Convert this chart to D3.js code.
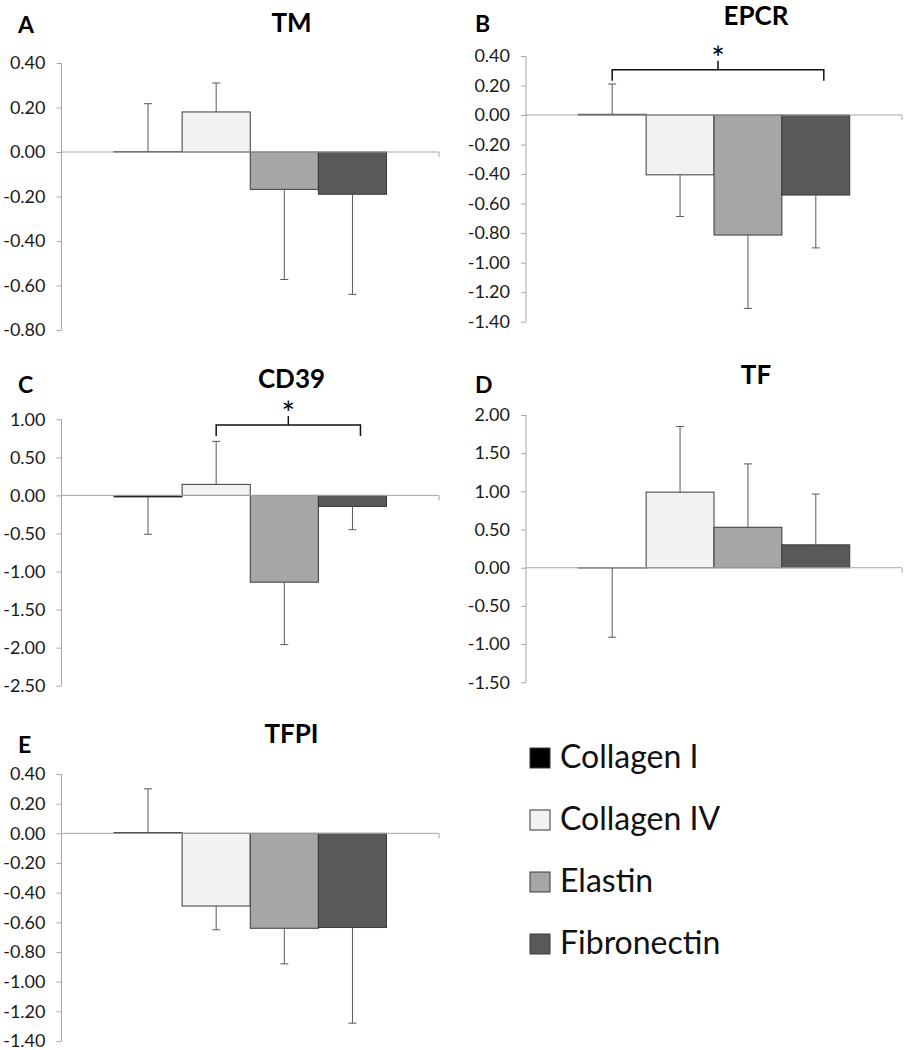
<!DOCTYPE html>
<html>
<head>
<meta charset="utf-8">
<script src="https://cdn.jsdelivr.net/npm/d3@7"></script>
<style>
  body { margin: 0; background: #fff; }
  text { font-family: Lato, "Open Sans", sans-serif; }
</style>
</head>
<body>
<script>
// materials (series) and their fills
var materials = ["Collagen I", "Collagen IV", "Elastin", "Fibronectin"];
var fills = ["#000000", "#f2f2f2", "#a6a6a6", "#595959"];

// mean and error (one-sided, away from zero) per panel
var tmMean = [0.002, 0.18, -0.168, -0.19];
var tmErr = [0.215, 0.13, 0.405, 0.45];
var epcrMean = [0.005, -0.405, -0.813, -0.542];
var epcrErr = [0.205, 0.282, 0.497, 0.358];
var cd39Mean = [-0.02, 0.145, -1.14, -0.145];
var cd39Err = [0.49, 0.565, 0.82, 0.305];
var tfMean = [-0.003, 0.99, 0.53, 0.30];
var tfErr = [0.907, 0.86, 0.83, 0.665];
var tfpiMean = [0.005, -0.49, -0.64, -0.635];
var tfpiErr = [0.295, 0.16, 0.24, 0.645];

// tick labels
var ticksA = [0.4, 0.2, 0, -0.2, -0.4, -0.6, -0.8];
var ticksB = [0.4, 0.2, 0, -0.2, -0.4, -0.6, -0.8, -1.0, -1.2, -1.4];
var ticksC = [1.0, 0.5, 0, -0.5, -1.0, -1.5, -2.0, -2.5];
var ticksD = [2.0, 1.5, 1.0, 0.5, 0, -0.5, -1.0, -1.5];
var ticksE = [0.4, 0.2, 0, -0.2, -0.4, -0.6, -0.8, -1.0, -1.2, -1.4];

var panels = [
  {letter: "A", title: "TM", mean: tmMean, err: tmErr, ticks: ticksA, sig: null},
  {letter: "B", title: "EPCR", mean: epcrMean, err: epcrErr, ticks: ticksB, sig: {from: 0, to: 3, y: 0.307}},
  {letter: "C", title: "CD39", mean: cd39Mean, err: cd39Err, ticks: ticksC, sig: {from: 1, to: 3, y: 0.924}},
  {letter: "D", title: "TF", mean: tfMean, err: tfErr, ticks: ticksD, sig: null},
  {letter: "E", title: "TFPI", mean: tfpiMean, err: tfpiErr, ticks: ticksE, sig: null}
];

// layout of each panel in pixels
var layout = [
  {x0: 61.5, x1: 439, top: 63, bottom: 330, letterX: 18, letterY: 33},
  {x0: 526, x1: 902, top: 56, bottom: 321.7, letterX: 475, letterY: 32},
  {x0: 61.5, x1: 439, top: 419.3, bottom: 685.7, letterX: 18, letterY: 393},
  {x0: 526, x1: 902, top: 415, bottom: 682.3, letterX: 475, letterY: 393},
  {x0: 61.5, x1: 439, top: 774, bottom: 1041, letterX: 18, letterY: 753}
];

var svg = d3.select("body")
  .append("svg")
    .attr("width", 910)
    .attr("height", 1050);

svg.append("rect").attr("width", 910).attr("height", 1050).attr("fill", "#fff");

var axisColor = "#a6a6a6";
var errColor = "#595959";

panels.forEach(function(p, i) {
  var L = layout[i];
  var g = svg.append("g");

  var y = d3.scaleLinear()
    .domain([d3.min(p.ticks), d3.max(p.ticks)])
    .range([L.bottom, L.top]);

  var pad = (L.x1 - L.x0) * 0.139;
  var x = d3.scaleBand()
    .domain(materials)
    .range([L.x0 + pad, L.x1 - pad])
    .paddingInner(0);

  // y axis
  var yAxis = g.append("g")
    .attr("transform", "translate(" + L.x0 + ",0)")
    .call(d3.axisLeft(y)
      .tickValues(p.ticks)
      .tickSize(5)
      .tickPadding(11)
      .tickFormat(function(d) { return d.toFixed(2); }));
  yAxis.select(".domain").attr("stroke", axisColor).attr("d", "M0," + L.top + "V" + L.bottom);
  yAxis.selectAll(".tick line").attr("stroke", axisColor);
  yAxis.selectAll(".tick text")
    .attr("fill", "#1a1a1a")
    .style("font-size", "18px");

  // bars
  g.selectAll(".bar")
    .data(p.mean)
    .enter()
    .append("rect")
      .attr("x", function(d, j) { return x(materials[j]); })
      .attr("y", function(d) { return y(Math.max(0, d)); })
      .attr("width", x.bandwidth())
      .attr("height", function(d) { return Math.abs(y(d) - y(0)); })
      .attr("fill", function(d, j) { return fills[j]; })
      .attr("stroke", "#3a3a3a")
      .attr("stroke-width", 1);

  // zero line (category axis)
  g.append("line")
    .attr("x1", L.x0).attr("x2", L.x1)
    .attr("y1", y(0)).attr("y2", y(0))
    .attr("stroke", axisColor);
  g.append("line")
    .attr("x1", L.x1).attr("x2", L.x1)
    .attr("y1", y(0)).attr("y2", y(0) + 5)
    .attr("stroke", axisColor);

  // error bars
  var eb = g.selectAll(".err")
    .data(p.mean)
    .enter()
    .append("g");
  eb.append("line")
    .attr("x1", function(d, j) { return x(materials[j]) + x.bandwidth() / 2; })
    .attr("x2", function(d, j) { return x(materials[j]) + x.bandwidth() / 2; })
    .attr("y1", function(d) { return y(d); })
    .attr("y2", function(d, j) { return y(d >= 0 ? d + p.err[j] : d - p.err[j]); })
    .attr("stroke", errColor);
  eb.append("line")
    .attr("x1", function(d, j) { return x(materials[j]) + x.bandwidth() / 2 - 4; })
    .attr("x2", function(d, j) { return x(materials[j]) + x.bandwidth() / 2 + 4; })
    .attr("y1", function(d, j) { return y(d >= 0 ? d + p.err[j] : d - p.err[j]); })
    .attr("y2", function(d, j) { return y(d >= 0 ? d + p.err[j] : d - p.err[j]); })
    .attr("stroke", errColor);

  // significance bracket
  if (p.sig) {
    var xa = x(materials[p.sig.from]) + x.bandwidth() / 2;
    var xb = x(materials[p.sig.to]) + x.bandwidth() / 2 + 8;
    var yb = y(p.sig.y);
    g.append("path")
      .attr("d", "M" + xa + "," + (yb + 11) + "V" + yb + "H" + xb + "V" + (yb + 11))
      .attr("fill", "none")
      .attr("stroke", "#111")
      .attr("stroke-width", 1.5);
    g.append("line")
      .attr("x1", (xa + xb) / 2).attr("x2", (xa + xb) / 2)
      .attr("y1", yb).attr("y2", yb - 9)
      .attr("stroke", "#111")
      .attr("stroke-width", 1.5);
    g.append("text")
      .attr("x", (xa + xb) / 2)
      .attr("y", yb)
      .attr("text-anchor", "middle")
      .style("font-size", "32px")
      .text("*");
  }

  // title and panel letter
  g.append("text")
    .attr("x", L.x0 + 230)
    .attr("y", L.top - 31)
    .attr("text-anchor", "middle")
    .style("font-size", "26px")
    .style("font-weight", "bold")
    .text(p.title);
  g.append("text")
    .attr("x", L.letterX)
    .attr("y", L.letterY)
    .style("font-size", "23px")
    .style("font-weight", "bold")
    .text(p.letter);
});

// legend
var legend = svg.append("g")
  .selectAll("g")
  .data(materials)
  .enter()
  .append("g")
    .attr("transform", function(d, i) { return "translate(530," + (748 + i * 62) + ")"; });
legend.append("rect")
  .attr("width", 20).attr("height", 20)
  .attr("fill", function(d, i) { return fills[i]; })
  .attr("stroke", "#3a3a3a");
legend.append("text")
  .attr("x", 30)
  .attr("y", 20)
  .style("font-size", "32px")
  .attr("fill", "#111")
  .text(function(d) { return d; });
</script>
</body>
</html>
